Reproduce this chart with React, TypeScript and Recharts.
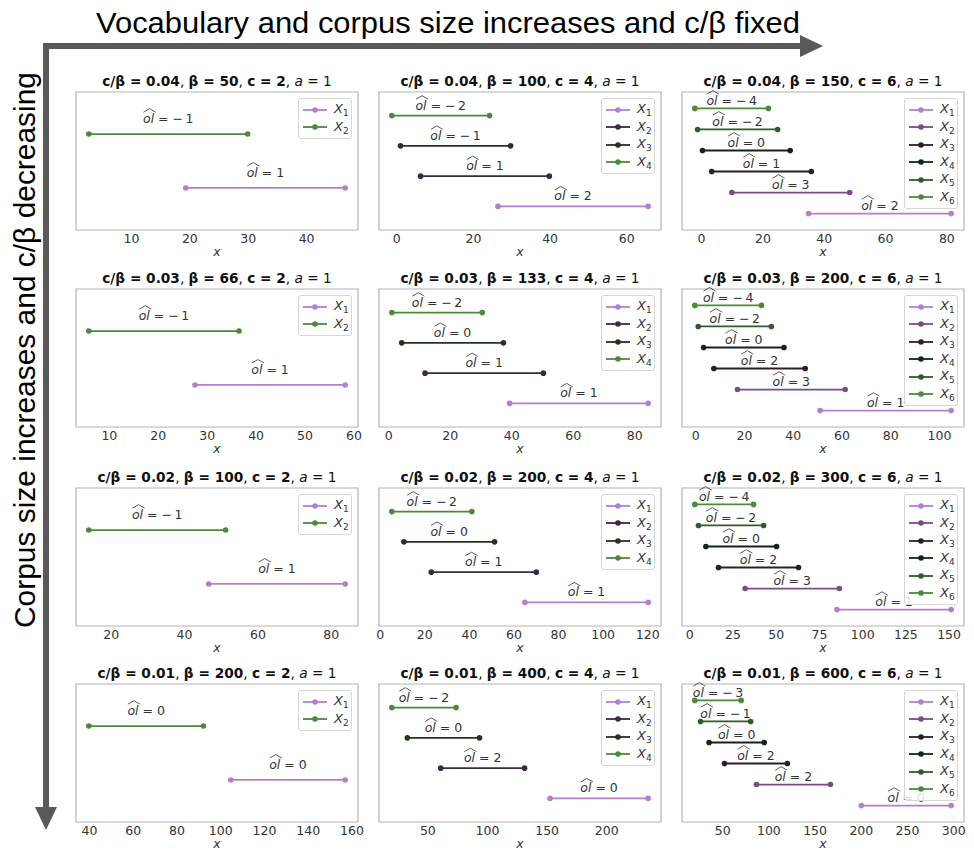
import React from "react";
import { ComposedChart, Line, Scatter, XAxis, YAxis, ReferenceArea } from "recharts";

// ---- titles ----
const cOverBeta = ["0.04", "0.03", "0.02", "0.01"];
const betaGrid = [
  [50, 100, 150],
  [66, 133, 200],
  [100, 200, 300],
  [200, 400, 600],
];
const cValues = [2, 4, 6];
const aValue = 1;

// ---- panel data: series listed X1 .. Xn ----
const r1c1Lo = [19.3, 2.7];
const r1c1Hi = [46.6, 29.9];
const r1c1Ol = [1, -1];
const r1c1Ticks = [10, 20, 30, 40];

const r1c2Lo = [26.4, 6.2, 0.96, -1.3];
const r1c2Hi = [65.6, 39.8, 29.7, 24.2];
const r1c2Ol = [2, 1, -1, -2];
const r1c2Ticks = [0, 20, 40, 60];

const r1c3Lo = [34.9, 9.9, 3.3, 0.3, -1.3, -2.2];
const r1c3Hi = [81.4, 48.3, 35.8, 28.9, 24.8, 21.8];
const r1c3Ol = [2, 3, 1, 0, -2, -4];
const r1c3Ticks = [0, 20, 40, 60, 80];

const r2c1Lo = [27.5, 5.8];
const r2c1Hi = [58.2, 36.5];
const r2c1Ol = [1, -1];
const r2c1Ticks = [10, 20, 30, 40, 50, 60];

const r2c2Lo = [39.3, 11.8, 4.2, 0.98];
const r2c2Hi = [84.4, 50.3, 37.3, 30.4];
const r2c2Ol = [1, 1, 0, -2];
const r2c2Ticks = [0, 20, 40, 60, 80];

const r2c3Lo = [51.0, 17.1, 7.4, 3.2, 1.0, -0.4];
const r2c3Hi = [104.8, 61.3, 44.9, 36.2, 31.0, 27.0];
const r2c3Ol = [1, 3, 2, 0, -2, -4];
const r2c3Ticks = [0, 20, 40, 60, 80, 100];

const r3c1Lo = [46.6, 13.9];
const r3c1Hi = [83.8, 51.2];
const r3c1Ol = [1, -1];
const r3c1Ticks = [20, 40, 60, 80];

const r3c2Lo = [64.9, 22.9, 10.6, 5.2];
const r3c2Hi = [120.2, 70.0, 51.3, 41.1];
const r3c2Ol = [1, 1, 0, -2];
const r3c2Ticks = [0, 20, 40, 60, 80, 100, 120];

const r3c3Lo = [85.1, 32.0, 16.6, 9.3, 5.0, 2.9];
const r3c3Hi = [151.2, 86.5, 62.9, 50.2, 42.7, 36.9];
const r3c3Ol = [1, 3, 2, 0, -2, -4];
const r3c3Ticks = [0, 25, 50, 75, 100, 125, 150];

const r4c1Lo = [104.6, 39.7];
const r4c1Hi = [156.9, 92.1];
const r4c1Ol = [0, 0];
const r4c1Ticks = [40, 60, 80, 100, 120, 140, 160];

const r4c2Lo = [152.4, 60.8, 32.8, 19.8];
const r4c2Hi = [234.7, 131.1, 93.3, 73.7];
const r4c2Ol = [0, 2, 0, -2];
const r4c2Ticks = [50, 100, 150, 200];

const r4c3Lo = [200.0, 86.6, 52.0, 35.3, 26.1, 19.9];
const r4c3Hi = [297.2, 166.6, 120.0, 95.0, 80.3, 70.0];
const r4c3Ol = [0, 2, 2, 0, -1, -3];
const r4c3Ticks = [50, 100, 150, 200, 250, 300];

const colors2 = ["#b67ecf", "#4b8a3a"];
const colors4 = ["#b67ecf", "#3b2a46", "#203421", "#4b8a3a"];
const colors6 = ["#b67ecf", "#7a4b86", "#2a1e2d", "#17231a", "#2e5c2a", "#4b8a3a"];

const panels = [
  [
    { lo: r1c1Lo, hi: r1c1Hi, ol: r1c1Ol, ticks: r1c1Ticks },
    { lo: r1c2Lo, hi: r1c2Hi, ol: r1c2Ol, ticks: r1c2Ticks },
    { lo: r1c3Lo, hi: r1c3Hi, ol: r1c3Ol, ticks: r1c3Ticks },
  ],
  [
    { lo: r2c1Lo, hi: r2c1Hi, ol: r2c1Ol, ticks: r2c1Ticks },
    { lo: r2c2Lo, hi: r2c2Hi, ol: r2c2Ol, ticks: r2c2Ticks },
    { lo: r2c3Lo, hi: r2c3Hi, ol: r2c3Ol, ticks: r2c3Ticks },
  ],
  [
    { lo: r3c1Lo, hi: r3c1Hi, ol: r3c1Ol, ticks: r3c1Ticks },
    { lo: r3c2Lo, hi: r3c2Hi, ol: r3c2Ol, ticks: r3c2Ticks },
    { lo: r3c3Lo, hi: r3c3Hi, ol: r3c3Ol, ticks: r3c3Ticks },
  ],
  [
    { lo: r4c1Lo, hi: r4c1Hi, ol: r4c1Ol, ticks: r4c1Ticks },
    { lo: r4c2Lo, hi: r4c2Hi, ol: r4c2Ol, ticks: r4c2Ticks },
    { lo: r4c3Lo, hi: r4c3Hi, ol: r4c3Ol, ticks: r4c3Ticks },
  ],
];

// ---- layout ----
const FONT = "DejaVu Sans";
const BOX_LEFTS = [76, 379, 682];
const BOX_W = 282;
const BOX_TOPS = [92, 289, 488, 684];
const BOX_H = 138;
const M_TOP = 30;
const M_SIDE = 12;
const AXIS_H = 40;
const Y_LO_PAD = 0.22;
const Y_HI_PAD = 0.78;
const LABEL_LIFT = 0.23;

const CHAR_W: Record<string, number> = {
  o: 0.612, l: 0.278, " ": 0.318, "=": 0.838, "\u2212": 0.838, "\u2009": 0.2,
};
const textW = (s: string, fs: number) =>
  s.split("").reduce((a, ch) => a + (CHAR_W[ch] ?? 0.636), 0) * fs;

const OlLabel = (props: any) => {
  const { cx, cy, payload } = props;
  if (cx == null || cy == null || !payload) return <g />;
  const v = payload.ol as number;
  const rest = v < 0 ? ` = \u2212\u2009${Math.abs(v)}` : ` = ${v}`;
  const fs = 12.5;
  const olW = textW("ol", fs);
  const total = olW + textW(rest, fs);
  const x0 = cx - total / 2;
  const yb = cy + 1;
  return (
    <g>
      <text x={x0} y={yb} fontSize={fs} fontFamily={FONT} fill="#333" style={{ whiteSpace: "pre" }}>
        <tspan fontStyle="italic">ol</tspan>
        <tspan>{rest}</tspan>
      </text>
      <path
        d={`M${x0 + 0.5},${yb - 10.5} L${x0 + olW / 2 + 1},${yb - 14} L${x0 + olW + 1.5},${yb - 10.5}`}
        stroke="#333"
        strokeWidth={0.8}
        fill="none"
      />
    </g>
  );
};

function Panel({ row, col }: { row: number; col: number }) {
  const p = panels[row][col];
  const n = p.lo.length;
  const colors = n === 2 ? colors2 : n === 4 ? colors4 : colors6;
  const all = [...p.lo, ...p.hi];
  const dmin = Math.min(...all);
  const dmax = Math.max(...all);
  const pad = (dmax - dmin) * 0.05;
  const xDomain = [dmin - pad, dmax + pad];
  const yDomain = [Y_LO_PAD, n + Y_HI_PAD];
  const labels = p.lo.map((lo, i) => ({ x: (lo + p.hi[i]) / 2, y: i + 1 + LABEL_LIFT, ol: p.ol[i] }));
  const boxL = BOX_LEFTS[col];
  const boxT = BOX_TOPS[row];
  return (
    <div
      style={{
        position: "absolute",
        left: boxL - M_SIDE,
        top: boxT - M_TOP,
        width: BOX_W + 2 * M_SIDE,
        height: BOX_H + M_TOP + AXIS_H,
      }}
    >
      <ComposedChart
        width={BOX_W + 2 * M_SIDE}
        height={BOX_H + M_TOP + AXIS_H}
        margin={{ top: M_TOP, right: M_SIDE, bottom: 0, left: M_SIDE }}
      >
        <XAxis
          type="number"
          dataKey="x"
          domain={xDomain}
          ticks={p.ticks}
          interval={0}
          tickLine={false}
          axisLine={false}
          tickSize={3}
          tickMargin={1}
          height={AXIS_H}
          tick={{ fontSize: 12.5, fill: "#333", fontFamily: FONT }}
        />
        <YAxis type="number" dataKey="y" hide domain={yDomain} />
        <ReferenceArea
          x1={xDomain[0]}
          x2={xDomain[1]}
          y1={yDomain[0]}
          y2={yDomain[1]}
          fill="none"
          fillOpacity={0}
          stroke="#b3b3b3"
          strokeWidth={1.2}
          ifOverflow="visible"
        />
        {p.lo.map((lo, i) => (
          <Line
            key={i}
            name={`X${i + 1}`}
            data={[
              { x: lo, y: i + 1 },
              { x: p.hi[i], y: i + 1 },
            ]}
            dataKey="y"
            stroke={colors[i]}
            strokeWidth={1.8}
            dot={{ r: 2.8, fill: colors[i], stroke: colors[i], strokeWidth: 0 }}
            activeDot={false}
            isAnimationActive={false}
          />
        ))}
        <Scatter data={labels} dataKey="y" shape={OlLabel} isAnimationActive={false} />
      </ComposedChart>
      <div
        style={{
          position: "absolute",
          left: M_SIDE + BOX_W - 6 - 54,
          top: M_TOP + 6,
          width: 52,
          padding: "2px 0 2px 0",
          border: "1px solid #d6d6d6",
          borderRadius: 3,
          background: "rgba(255,255,255,0.85)",
        }}
      >
        {colors.map((c, i) => (
          <div key={i} style={{ display: "flex", alignItems: "center", height: 17.5 }}>
            <svg width={24} height={10} style={{ marginLeft: 4 }}>
              <line x1={0} y1={5} x2={24} y2={5} stroke={c} strokeWidth={1.8} />
              <circle cx={12} cy={5} r={2.8} fill={c} />
            </svg>
            <span
              style={{ marginLeft: 7, fontFamily: FONT, fontSize: 13, color: "#333", lineHeight: "13px" }}
            >
              <i>X</i>
              <span style={{ fontSize: 9, position: "relative", top: 3 }}>{i + 1}</span>
            </span>
          </div>
        ))}
      </div>
    </div>
  );
}

function Title({ row, col }: { row: number; col: number }) {
  const cx = BOX_LEFTS[col] + BOX_W / 2;
  const y = BOX_TOPS[row] - 6;
  return (
    <text x={cx} y={y} textAnchor="middle" fontSize={13.7} fontFamily={FONT} fill="#111" style={{ whiteSpace: "pre" }}>
      <tspan fontWeight="bold">{`c/\u03b2 = ${cOverBeta[row]}`}</tspan>
      <tspan>{", "}</tspan>
      <tspan fontWeight="bold">{`\u03b2 = ${betaGrid[row][col]}`}</tspan>
      <tspan>{", "}</tspan>
      <tspan fontWeight="bold">{`c = ${cValues[col]}`}</tspan>
      <tspan>{", "}</tspan>
      <tspan fontStyle="italic">a</tspan>
      <tspan>{` = ${aValue}`}</tspan>
    </text>
  );
}

export default function App() {
  const cells: { row: number; col: number }[] = [];
  for (let r = 0; r < 4; r++) for (let c = 0; c < 3; c++) cells.push({ row: r, col: c });
  return (
    <div style={{ position: "absolute", left: 0, top: 0, width: 974, height: 852, background: "#fff", overflow: "hidden" }}>
      <svg width={974} height={852} style={{ position: "absolute", left: 0, top: 0 }}>
        <text
          x={96}
          y={33}
          fontSize={29}
          fontFamily="Liberation Sans"
          fill="#000"
          textLength={704}
          lengthAdjust="spacingAndGlyphs"
        >
          Vocabulary and corpus size increases and c/β fixed
        </text>
        <text
          transform="translate(35,628) rotate(-90)"
          x={0}
          y={0}
          fontSize={29}
          fontFamily="Liberation Sans"
          fill="#000"
          textLength={556}
          lengthAdjust="spacingAndGlyphs"
        >
          Corpus size increases and c/β decreasing
        </text>
        <line x1={43} y1={46} x2={802} y2={46} stroke="#595959" strokeWidth={6} />
        <polygon points="800,35 823,46 800,57" fill="#595959" />
        <line x1={46} y1={43} x2={46} y2={810} stroke="#595959" strokeWidth={6} />
        <polygon points="35,807 46,830 57,807" fill="#595959" />
        {cells.map((c) => (
          <Title key={`t${c.row}${c.col}`} row={c.row} col={c.col} />
        ))}
        {cells.map((c) => (
          <text
            key={`x${c.row}${c.col}`}
            x={BOX_LEFTS[c.col] + BOX_W / 2}
            y={BOX_TOPS[c.row] + BOX_H + 26}
            textAnchor="middle"
            fontSize={12.5}
            fontStyle="italic"
            fontFamily={FONT}
            fill="#333"
          >
            x
          </text>
        ))}
      </svg>
      {cells.map((c) => (
        <Panel key={`p${c.row}${c.col}`} row={c.row} col={c.col} />
      ))}
    </div>
  );
}
